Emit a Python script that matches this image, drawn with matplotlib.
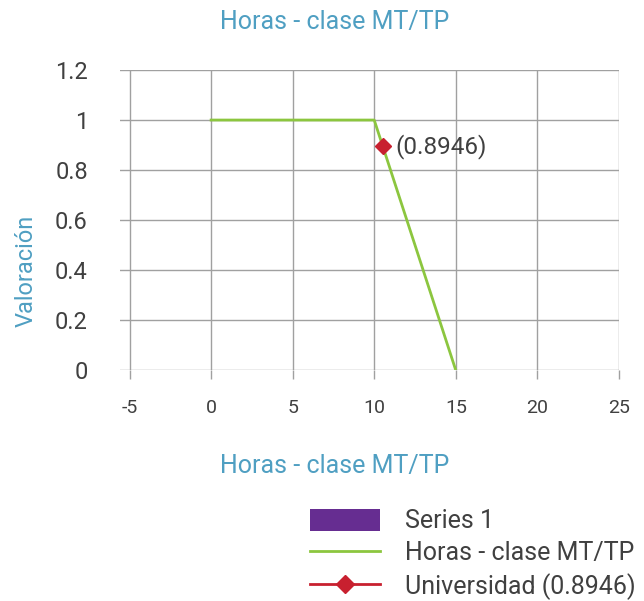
import matplotlib.pyplot as plt
from matplotlib.patches import Patch
from matplotlib.lines import Line2D

# Data
curve_x = [0, 10, 15]
curve_y = [1, 1, 0]
uni_x = [10.527]
uni_y = [0.8946]
uni_label = "(0.8946)"
x_ticks = [-5, 0, 5, 10, 15, 20, 25]
y_ticks = [0, 0.2, 0.4, 0.6, 0.8, 1.0, 1.2]
y_tick_labels = ["0", "0.2", "0.4", "0.6", "0.8", "1", "1.2"]

plt.rcParams['font.family'] = ['Roboto', 'DejaVu Sans']
plt.rcParams['axes.unicode_minus'] = False
text_col = '#404040'
blue = '#4f9fc2'
green = '#8cc63f'
red = '#c8202f'
purple = '#662d91'
grid_col = '#a0a0a0'

fig = plt.figure(figsize=(6.44, 6.01), dpi=100)
ax = fig.add_axes([0.186, 0.384, 0.775, 0.4995])

ax.plot(curve_x, curve_y, color=green, lw=2, zorder=3)
ax.plot(uni_x, uni_y, marker='D', color=red, ms=8, lw=0, zorder=4)
ax.annotate(uni_label, (uni_x[0], uni_y[0]), xytext=(9, 0), textcoords='offset points',
            va='center', ha='left', fontsize=17.5, color=text_col)

ax.set_xlim(-5.6, 25)
ax.set_ylim(0, 1.2)
ax.set_xticks(x_ticks)
ax.set_yticks(y_ticks)
ax.set_yticklabels(y_tick_labels)
ax.grid(True, color=grid_col, lw=1)
ax.set_axisbelow(True)
for s in ax.spines.values():
    s.set_visible(False)
ax.tick_params(axis='x', length=6.5, color=grid_col, width=1, pad=14, labelsize=14,
               labelcolor=text_col)
ax.tick_params(axis='y', length=0, pad=23, labelsize=17, labelcolor=text_col)

fig.text(0.52, 0.963, "Horas - clase MT/TP", ha='center', va='center', fontsize=18,
         color=blue)
fig.text(0.52, 0.225, "Horas - clase MT/TP", ha='center', va='center', fontsize=18,
         color=blue)
fig.text(0.04, 0.55, "Valoración", ha='center', va='center', rotation=90, fontsize=17,
         color=blue)

handles = [
    Patch(facecolor=purple, edgecolor='none'),
    Line2D([], [], color=green, lw=2),
    Line2D([], [], color=red, lw=2, marker='D', ms=9),
]
labels = ["Series 1", "Horas - clase MT/TP", "Universidad (0.8946)"]
leg = fig.legend(handles, labels, loc='upper left', bbox_to_anchor=(0.462, 0.174),
                 frameon=False, fontsize=18, handlelength=2.8, handleheight=0.96,
                 handletextpad=1.0, labelspacing=0.3, labelcolor=text_col,
                 borderpad=0)

fig.savefig('out.png', dpi=100, facecolor='white')
